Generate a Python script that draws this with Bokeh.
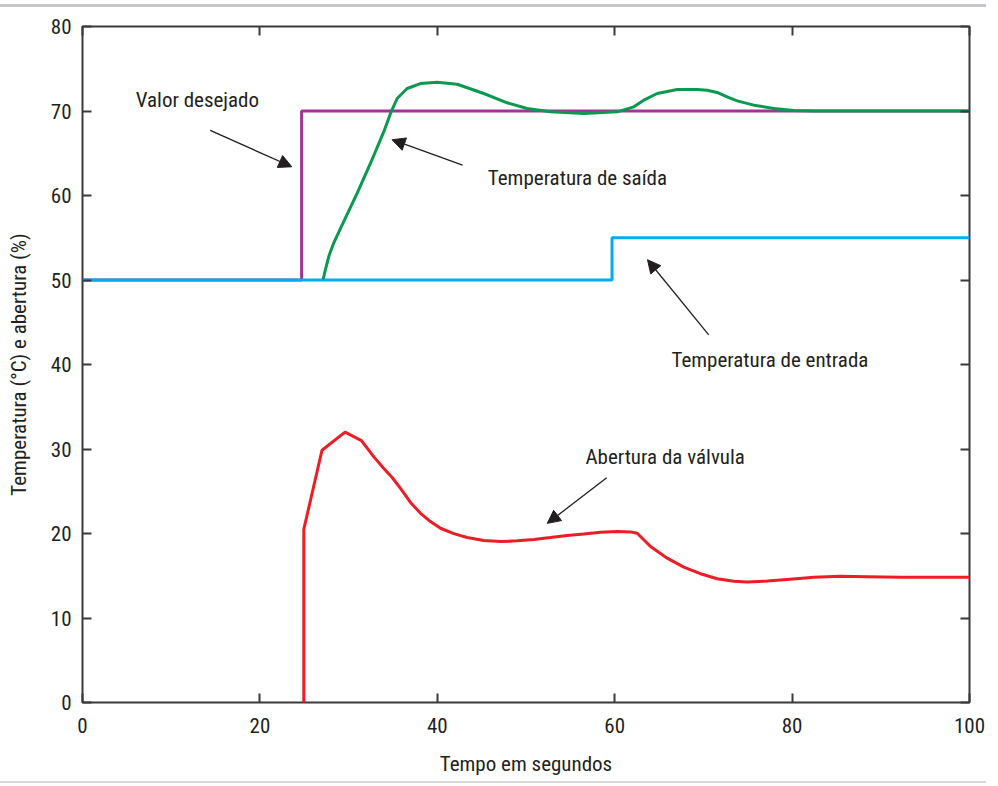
from bokeh.plotting import figure
from bokeh.models import Range1d, LinearAxis, FixedTicker, Arrow, NormalHead, Label, Div
from bokeh.layouts import column
from bokeh.embed import file_html
from bokeh.resources import INLINE

FONT = "'Liberation Sans Narrow', 'Roboto Condensed', 'DejaVu Sans Condensed', Roboto, sans-serif"
TXT = "#231f20"

x_ticks = [0, 20, 40, 60, 80, 100]
y_ticks = [0, 10, 20, 30, 40, 50, 60, 70, 80]

# Valor desejado (setpoint)
set_x = [0, 24.7, 24.7, 100]
set_y = [50, 50, 70, 70]

# Temperatura de entrada
in_x = [0, 59.7, 59.7, 100]
in_y = [50, 50, 55, 55]

# Temperatura de saída
out_x = [27.13, 27.4, 27.8, 28.33, 29.46, 30.97, 32.47, 33.97, 34.72, 35.47, 36.6, 38.1, 39.99,
         42.24, 45.24, 47.88, 50.13, 52.76, 56.52, 60.28, 62.15, 63.28, 64.79, 67.05, 69.3,
         70.43, 71.55, 72.68, 73.81, 75.68, 77.94, 80.19, 82.45, 100]
out_y = [50.07, 51.3, 52.9, 54.4, 56.95, 60.29, 63.82, 67.55, 69.71, 71.48, 72.66, 73.25, 73.4,
         73.17, 72.07, 70.97, 70.3, 69.9, 69.71, 69.9, 70.49, 71.28, 72.07, 72.54, 72.54,
         72.46, 72.19, 71.67, 71.2, 70.69, 70.3, 70.05, 70.0, 70.0]

# Abertura da válvula
valve_x = [24.95, 24.95, 27.0, 29.6, 31.45, 32.85, 33.97, 34.91, 35.85, 36.98, 38.11, 39.23,
           40.36, 41.86, 43.37, 45.24, 47.12, 49.0, 50.88, 52.76, 54.64, 56.52, 58.4, 60.28,
           61.78, 62.54, 64.04, 65.92, 67.79, 69.67, 71.55, 73.43, 74.93, 77.19, 79.44, 82.45,
           85.46, 88.47, 92.22, 100]
valve_y = [0, 20.5, 29.85, 32.0, 31.0, 29.07, 27.69, 26.63, 25.33, 23.68, 22.39, 21.41,
           20.62, 19.99, 19.52, 19.17, 19.05, 19.13, 19.29, 19.52, 19.76, 19.95, 20.15, 20.23,
           20.19, 20.03, 18.46, 17.08, 16.02, 15.24, 14.65, 14.34, 14.26, 14.37, 14.57, 14.81,
           14.93, 14.89, 14.81, 14.81]

# Annotations
labels = ["Valor desejado", "Temperatura de saída", "Temperatura de entrada", "Abertura da válvula"]
label_x = [6.0, 45.7, 66.4, 56.7]
label_y = [71.3, 62.1, 40.5, 29.1]
arrow_x0 = [14.4, 42.85, 70.6, 59.1]
arrow_y0 = [67.7, 63.6, 43.5, 26.6]
arrow_x1 = [23.6, 34.9, 63.7, 52.4]
arrow_y1 = [63.4, 66.6, 52.4, 21.2]

p = figure(width=998, height=770, output_backend="svg", toolbar_location=None,
           x_range=Range1d(0, 100), y_range=Range1d(0, 80),
           min_border_left=82, min_border_right=29, min_border_top=18, min_border_bottom=73,
           x_axis_label="Tempo em segundos", y_axis_label="Temperatura (°C) e abertura (%)")
p.grid.visible = False
p.outline_line_color = "#3a3a3a"
p.outline_line_width = 2
p.background_fill_color = "white"
p.border_fill_color = "white"

def style_axis(ax, ticks, labels_on=True):
    ax.ticker = FixedTicker(ticks=ticks)
    ax.axis_line_color = None
    ax.major_tick_in = 9
    ax.major_tick_out = 0
    ax.major_tick_line_color = "#3a3a3a"
    ax.major_tick_line_width = 2
    ax.minor_tick_line_color = None
    ax.major_label_text_font = FONT
    ax.major_label_text_color = TXT
    ax.major_label_text_font_size = "21px"
    if not labels_on:
        ax.major_label_overrides = {t: "" for t in ticks}
    ax.axis_label_text_font = FONT
    ax.axis_label_text_font_style = "normal"
    ax.axis_label_text_color = TXT
    ax.axis_label_text_font_size = "21px"

style_axis(p.xaxis[0], x_ticks)
style_axis(p.yaxis[0], y_ticks)
p.xaxis[0].major_label_standoff = 15
p.yaxis[0].major_label_standoff = 11
p.xaxis[0].axis_label_standoff = 16
p.yaxis[0].axis_label_standoff = 17

top = LinearAxis()
style_axis(top, x_ticks, labels_on=False)
p.add_layout(top, "above")
right = LinearAxis()
style_axis(right, y_ticks, labels_on=False)
p.add_layout(right, "right")

p.line(set_x, set_y, line_color="#a3339a", line_width=3)
p.line(in_x, in_y, line_color="#00aeef", line_width=3)
p.line(out_x, out_y, line_color="#0a9a4f", line_width=3)
p.line(valve_x, valve_y, line_color="#ee1c25", line_width=3)

for i in range(len(labels)):
    p.add_layout(Arrow(x_start=arrow_x0[i], y_start=arrow_y0[i], x_end=arrow_x1[i], y_end=arrow_y1[i],
                       line_color="#231f20", line_width=1.3,
                       end=NormalHead(size=13, fill_color="#231f20", line_color="#231f20", line_width=1)))
    p.add_layout(Label(x=label_x[i], y=label_y[i], text=labels[i], text_font=FONT,
                       text_font_size="21px", text_color=TXT, text_baseline="middle", text_align="left"))

top_bar = Div(text="", width=986, height=3, styles={"background-color": "#c6c6ca"}, margin=(4, 0, 1, 0))
bot_bar = Div(text="", width=986, height=2, styles={"background-color": "#d8d8dc"}, margin=(3, 0, 0, 0))

layout = column(top_bar, p, bot_bar, spacing=0)
open("out.html", "w").write(file_html(layout, INLINE))
